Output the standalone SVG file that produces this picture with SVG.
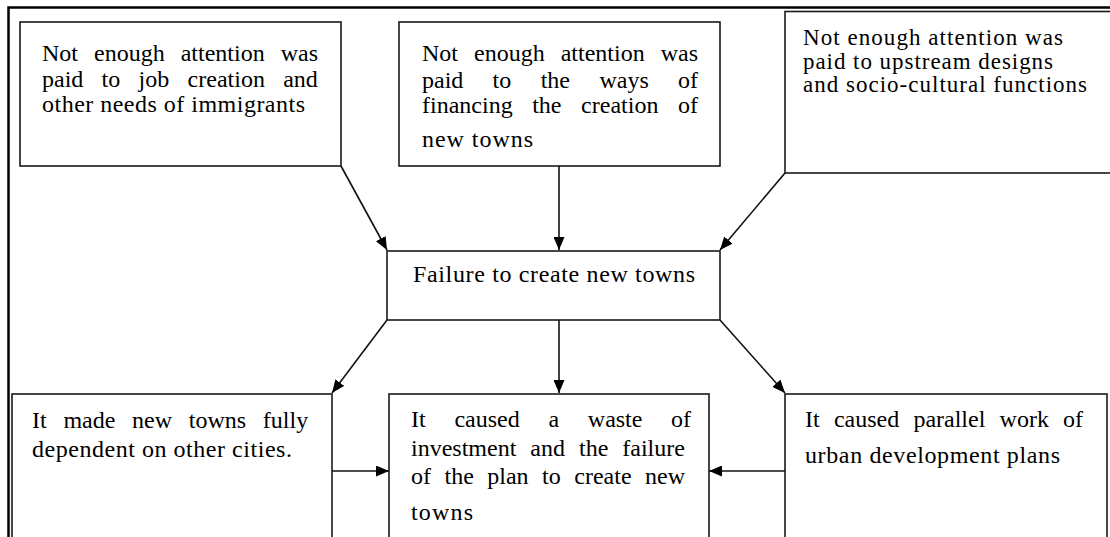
<svg xmlns="http://www.w3.org/2000/svg" width="1110" height="537" viewBox="0 0 1110 537">
<defs>
<style>
.box{fill:#fff;stroke:#1a1a1a;stroke-width:1.6}
.frame{fill:none;stroke:#000;stroke-width:2.5}
.t{font-family:"Liberation Serif","Times New Roman",serif;font-size:24px;fill:#000}
.s{font-size:23px}
.c{stroke:#111;stroke-width:1.6;fill:none;marker-end:url(#ah)}
</style>
<marker id="ah" markerUnits="userSpaceOnUse" markerWidth="13" markerHeight="11" refX="13" refY="5.5" orient="auto">
<path d="M0,0 L13,5.5 L0,11 z" fill="#000"/>
</marker>
</defs>
<rect width="1110" height="537" fill="#fff"/>
<rect class="frame" x="8.5" y="7.5" width="1120" height="560"/>

<g id="n1">
<rect class="box" x="20" y="22" width="321" height="144"/>
<text class="t" y="61"><tspan x="42">Not</tspan><tspan x="94">enough</tspan><tspan x="180.7">attention</tspan><tspan x="280.7">was</tspan></text>
<text class="t" y="87"><tspan x="42">paid</tspan><tspan x="101.6">to</tspan><tspan x="138.6">job</tspan><tspan x="187.6">creation</tspan><tspan x="283.2">and</tspan></text>
<text class="t" x="42" y="112" textLength="263" lengthAdjust="spacing">other needs of immigrants</text>
</g>

<g id="n2">
<rect class="box" x="399" y="22" width="321" height="144"/>
<text class="t" y="61"><tspan x="422">Not</tspan><tspan x="474">enough</tspan><tspan x="560.7">attention</tspan><tspan x="660.7">was</tspan></text>
<text class="t" y="88"><tspan x="422">paid</tspan><tspan x="492.6">to</tspan><tspan x="540.7">the</tspan><tspan x="599.4">ways</tspan><tspan x="678">of</tspan></text>
<text class="t" y="113"><tspan x="422">financing</tspan><tspan x="532.2">the</tspan><tspan x="581.1">creation</tspan><tspan x="678">of</tspan></text>
<text class="t" x="422" y="147" textLength="111" lengthAdjust="spacing">new towns</text>
</g>

<g id="n3">
<rect class="box" x="785" y="11.5" width="340" height="161.5"/>
<text class="t s" x="803" y="45" textLength="260" lengthAdjust="spacing">Not enough attention was</text>
<text class="t s" x="803" y="68.5" textLength="250" lengthAdjust="spacing">paid to upstream designs</text>
<text class="t s" x="803" y="92" textLength="284" lengthAdjust="spacing">and socio-cultural functions</text>
</g>

<g id="n4">
<rect class="box" x="387" y="251" width="333" height="69"/>
<text class="t" x="413" y="282" textLength="282" lengthAdjust="spacing">Failure to create new towns</text>
</g>

<g id="n5">
<rect class="box" x="12" y="394" width="320" height="170"/>
<text class="t" y="428"><tspan x="32">It</tspan><tspan x="63.4">made</tspan><tspan x="132.1">new</tspan><tspan x="188.8">towns</tspan><tspan x="262.8">fully</tspan></text>
<text class="t" x="32" y="457" textLength="260" lengthAdjust="spacing">dependent on other cities.</text>
</g>

<g id="n6">
<rect class="box" x="389" y="394" width="320" height="170"/>
<text class="t" y="427"><tspan x="411">It</tspan><tspan x="454.4">caused</tspan><tspan x="548.4">a</tspan><tspan x="587.8">waste</tspan><tspan x="671">of</tspan></text>
<text class="t" y="456"><tspan x="411">investment</tspan><tspan x="530.3">and</tspan><tspan x="579">the</tspan><tspan x="622.3">failure</tspan></text>
<text class="t" y="484"><tspan x="411">of</tspan><tspan x="444.5">the</tspan><tspan x="487.3">plan</tspan><tspan x="542.1">to</tspan><tspan x="574.3">create</tspan><tspan x="645.1">new</tspan></text>
<text class="t" x="411" y="520" textLength="62" lengthAdjust="spacing">towns</text>
</g>

<g id="n7">
<rect class="box" x="785" y="394" width="322" height="170"/>
<text class="t" y="427"><tspan x="805">It</tspan><tspan x="833.9">caused</tspan><tspan x="913.4">parallel</tspan><tspan x="999.6">work</tspan><tspan x="1063.1">of</tspan></text>
<text class="t" x="805" y="463" textLength="255" lengthAdjust="spacing">urban development plans</text>
</g>

<g id="connectors">
<line class="c" x1="341" y1="166" x2="387" y2="250"/>
<line class="c" x1="559" y1="166" x2="559" y2="250"/>
<line class="c" x1="785" y1="173" x2="720" y2="250"/>
<line class="c" x1="387" y1="320" x2="332" y2="393"/>
<line class="c" x1="559" y1="320" x2="559" y2="393"/>
<line class="c" x1="720" y1="320" x2="785" y2="393"/>
<line class="c" x1="332" y1="471" x2="389" y2="471"/>
<line class="c" x1="785" y1="471" x2="709" y2="471"/>
</g>
</svg>
